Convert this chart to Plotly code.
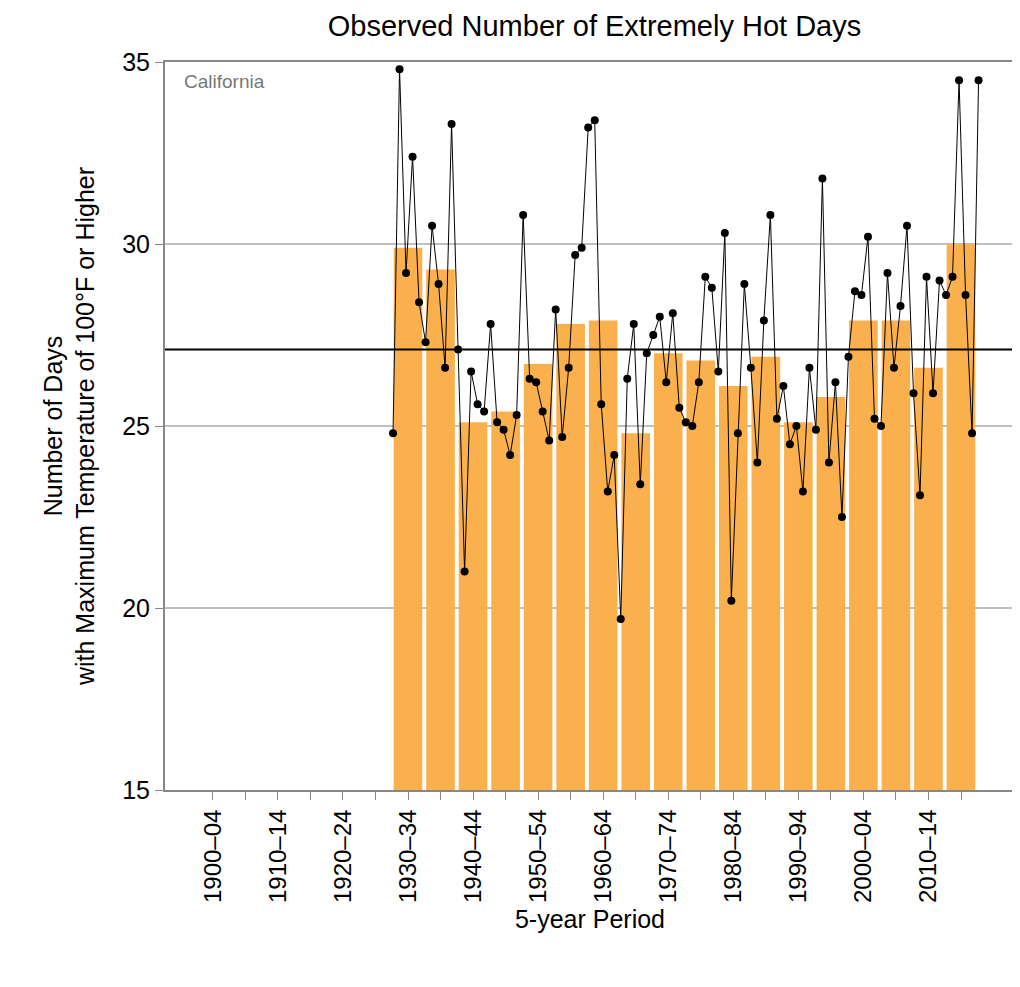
import plotly.graph_objects as go

periods = [f"{y}\u2013{str(y+4)[-2:]}" for y in range(1900, 2020, 5)]
bar_periods = periods[6:]
bar_values = [29.9, 29.3, 25.1, 25.4, 26.7, 27.8, 27.9, 24.8, 27.0, 26.8, 26.1, 26.9,
              25.1, 25.8, 27.9, 27.9, 26.6, 30.0]
years = list(range(1930, 2021))
annual = [24.8, 34.8, 29.2, 32.4, 28.4, 27.3, 30.5, 28.9, 26.6, 33.3,
          27.1, 21.0, 26.5, 25.6, 25.4, 27.8, 25.1, 24.9, 24.2, 25.3,
          30.8, 26.3, 26.2, 25.4, 24.6, 28.2, 24.7, 26.6, 29.7, 29.9,
          33.2, 33.4, 25.6, 23.2, 24.2, 19.7, 26.3, 27.8, 23.4, 27.0,
          27.5, 28.0, 26.2, 28.1, 25.5, 25.1, 25.0, 26.2, 29.1, 28.8,
          26.5, 30.3, 20.2, 24.8, 28.9, 26.6, 24.0, 27.9, 30.8, 25.2,
          26.1, 24.5, 25.0, 23.2, 26.6, 24.9, 31.8, 24.0, 26.2, 22.5,
          26.9, 28.7, 28.6, 30.2, 25.2, 25.0, 29.2, 26.6, 28.3, 30.5,
          25.9, 23.1, 29.1, 25.9, 29.0, 28.6, 29.1, 34.5, 28.6, 24.8, 34.5]
long_term_avg = 27.1

bar_x = [periods.index(p) for p in bar_periods]
pt_x = [(y - 1900) // 5 - 0.46 + (y % 5) * 0.2 for y in years]

fig = go.Figure()
fig.add_bar(x=bar_x, y=[v - 15 for v in bar_values], base=15, width=0.88,
            marker_color="#fbb04e", marker_line_width=0)
fig.add_scatter(x=pt_x, y=annual, mode="lines+markers",
                line=dict(color="black", width=1), marker=dict(color="black", size=8))
fig.add_shape(type="line", xref="paper", x0=0, x1=1, y0=long_term_avg, y1=long_term_avg,
              line=dict(color="black", width=2))

ticktext = [p if i % 2 == 0 else "" for i, p in enumerate(periods)]
fig.update_layout(
    width=1020, height=987, showlegend=False,
    margin=dict(l=157, r=11, t=54, b=205),
    paper_bgcolor="white", plot_bgcolor="white",
    font=dict(family="Liberation Sans, Arial", size=24, color="black"),
    title=dict(text="Observed Number of Extremely Hot Days", x=0.575, y=0.992,
               yanchor="top", font=dict(size=29)),
    xaxis=dict(range=[-1.47, 24.66], tickvals=list(range(len(periods))), ticktext=ticktext,
               tickangle=-90, ticks="outside", ticklen=8, tickcolor="#888",
               showline=True, linecolor="#888", linewidth=2, mirror=True,
               showgrid=False, zeroline=False, tickfont=dict(size=24),
               title=dict(text="5-year Period", standoff=8, font=dict(size=25))),
    yaxis=dict(range=[15, 35], tickvals=[15, 20, 25, 30, 35], ticks="outside", ticklen=8,
               tickcolor="#888", showline=True, linecolor="#888", linewidth=2, mirror=True,
               showgrid=True, gridcolor="#c0c0c0", gridwidth=1.5, zeroline=False,
               tickfont=dict(size=25),
               title=dict(text="Number of Days<br>with Maximum Temperature of 100°F or Higher",
                          standoff=20, font=dict(size=25))),
    annotations=[dict(text="California", xref="paper", yref="paper", x=0.02, y=0.99,
                      xanchor="left", yanchor="top", showarrow=False,
                      font=dict(size=19, color="#777"))],
)
fig.write_html("out.html")
